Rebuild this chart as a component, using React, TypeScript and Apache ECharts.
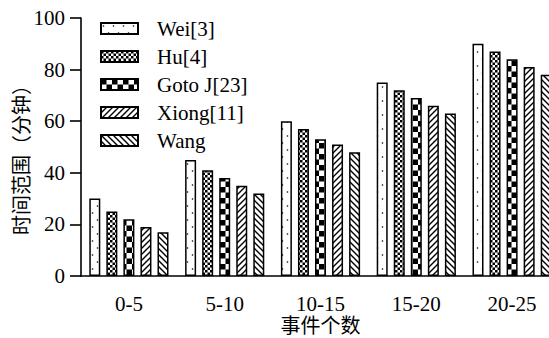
import React, { useEffect, useRef } from "react";
import * as echarts from "echarts";

const categories = ["0-5", "5-10", "10-15", "15-20", "20-25"];
const seriesNames = ["Wei[3]", "Hu[4]", "Goto J[23]", "Xiong[11]", "Wang"];
const weiValues = [30, 45, 60, 75, 90];
const huValues = [25, 41, 57, 72, 87];
const gotoValues = [22, 38, 53, 69, 84];
const xiongValues = [19, 35, 51, 66, 81];
const wangValues = [17, 32, 48, 63, 78];
const yTicks = { min: 0, max: 100, interval: 20 };
const xAxisName = "事件个数";
const yAxisName = "时间范围（分钟）";

function makePattern(w: number, h: number, draw: (ctx: CanvasRenderingContext2D) => void) {
  const c = document.createElement("canvas");
  c.width = w;
  c.height = h;
  const ctx = c.getContext("2d") as CanvasRenderingContext2D;
  ctx.fillStyle = "#fff";
  ctx.fillRect(0, 0, w, h);
  ctx.fillStyle = "#000";
  ctx.strokeStyle = "#000";
  draw(ctx);
  return { image: c, repeat: "repeat", imageWidth: w, imageHeight: h };
}

function buildPatterns() {
  const dots = makePattern(10, 14, (ctx) => {
    ctx.beginPath();
    ctx.arc(2.5, 3, 0.8, 0, Math.PI * 2);
    ctx.fill();
    ctx.beginPath();
    ctx.arc(7.5, 10, 0.8, 0, Math.PI * 2);
    ctx.fill();
  });
  const fine = makePattern(5, 5, (ctx) => {
    ctx.fillRect(0, 0, 2.5, 2.5);
    ctx.fillRect(2.5, 2.5, 2.5, 2.5);
  });
  const big = makePattern(11, 11, (ctx) => {
    ctx.fillRect(0, 0, 5.5, 5.5);
    ctx.fillRect(5.5, 5.5, 5.5, 5.5);
  });
  const fwd = makePattern(6, 6, (ctx) => {
    ctx.lineWidth = 1.4;
    ctx.beginPath();
    ctx.moveTo(-1, 7);
    ctx.lineTo(7, -1);
    ctx.moveTo(-1, 1);
    ctx.lineTo(1, -1);
    ctx.moveTo(5, 7);
    ctx.lineTo(7, 5);
    ctx.stroke();
  });
  const back = makePattern(6, 6, (ctx) => {
    ctx.lineWidth = 1.4;
    ctx.beginPath();
    ctx.moveTo(-1, -1);
    ctx.lineTo(7, 7);
    ctx.moveTo(5, -1);
    ctx.lineTo(7, 1);
    ctx.moveTo(-1, 5);
    ctx.lineTo(1, 7);
    ctx.stroke();
  });
  return [dots, fine, big, fwd, back];
}

export default function App() {
  const ref = useRef<HTMLDivElement>(null);
  useEffect(() => {
    if (!ref.current) return;
    const chart = echarts.init(ref.current, null, { renderer: "svg" });
    const patterns = buildPatterns();
    const allValues = [weiValues, huValues, gotoValues, xiongValues, wangValues];
    const serif = "Liberation Serif";
    const mixed = "Liberation Serif, Noto Sans CJK SC";
    chart.setOption({
      animation: false,
      textStyle: { fontFamily: serif, color: "#000" },
      grid: {
        left: 81,
        right: -11,
        top: 18,
        bottom: 62,
        containLabel: false,
        outerBoundsMode: "none",
      },
      legend: {
        orient: "vertical",
        left: 100,
        top: 18,
        padding: 0,
        itemWidth: 37,
        itemHeight: 11,
        itemGap: 7,
        icon: "rect",
        data: seriesNames,
        textStyle: {
          fontFamily: serif,
          fontSize: 21,
          lineHeight: 21,
          color: "#000",
          padding: [0, 0, 0, 14],
        },
      },
      xAxis: {
        type: "category",
        data: categories,
        name: xAxisName,
        nameLocation: "middle",
        nameGap: 40,
        nameMoveOverlap: false,
        nameTextStyle: { fontFamily: mixed, fontSize: 20, lineHeight: 20, color: "#000" },
        axisLine: { lineStyle: { color: "#000", width: 1.6 } },
        axisTick: { alignWithLabel: true, length: 11, lineStyle: { color: "#000", width: 1.6 } },
        axisLabel: { fontFamily: serif, fontSize: 21, lineHeight: 18, color: "#000", margin: 19 },
        splitLine: { show: false },
      },
      yAxis: {
        type: "value",
        min: yTicks.min,
        max: yTicks.max,
        interval: yTicks.interval,
        name: yAxisName,
        nameLocation: "middle",
        nameGap: 49,
        nameMoveOverlap: false,
        nameTextStyle: { fontFamily: mixed, fontSize: 20, color: "#000", padding: [0, 16, 0, 0] },
        axisLine: { show: true, lineStyle: { color: "#000", width: 1.6 } },
        axisTick: { show: true, length: 11, lineStyle: { color: "#000", width: 1.6 } },
        axisLabel: { fontFamily: serif, fontSize: 21, color: "#000", margin: 16 },
        splitLine: { show: false },
      },
      series: seriesNames.map((name, i) => ({
        name,
        type: "bar",
        data: allValues[i],
        barWidth: 11,
        barGap: "55%",
        itemStyle: {
          color: patterns[i],
          borderColor: "#000",
          borderWidth: 1.5,
        },
      })),
    });
    return () => chart.dispose();
  }, []);
  return (
    <div
      ref={ref}
      style={{ position: "fixed", left: 0, top: 0, width: 549, height: 338, background: "#fff" }}
    />
  );
}
